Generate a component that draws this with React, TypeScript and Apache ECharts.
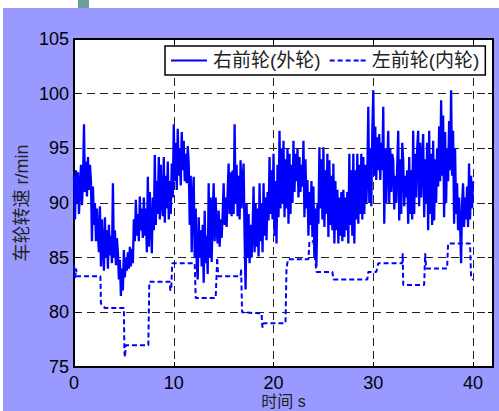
import React, { useEffect, useRef } from "react";
import * as echarts from "echarts";

// time step of the outer-wheel samples (s)
const timeStep = 0.1;

// 右前轮(外轮) speed, r/min, one value every 0.1 s from 0 to 40 s
const outerWheel: number[] = [
  92.5, 88.5, 93.0, 90.0, 92.8, 89.0, 91.5, 93.5, 89.8, 92.0,
  97.2, 91.0, 93.8, 90.6, 94.2, 91.2, 93.5, 92.0, 86.5, 91.5,
  88.0, 90.0, 86.5, 89.5, 87.0, 85.5, 89.7, 84.2, 88.5, 86.0,
  83.8, 88.7, 85.0, 87.5, 84.0, 88.0, 85.2, 87.0, 84.5, 91.8,
  85.0, 87.5, 84.3, 86.8, 85.5, 83.0, 84.8, 81.5, 84.0, 82.0,
  85.7, 83.2, 85.0, 83.8, 85.5, 84.0, 86.0, 84.2, 85.8, 84.5,
  88.5, 86.5, 90.3, 87.0, 89.0, 86.5, 90.6, 87.5, 89.5, 86.8,
  90.5, 87.0, 89.5, 85.5, 92.4, 86.0, 91.0, 88.0, 85.4, 90.5,
  87.5, 94.4, 88.0, 92.0, 89.0, 94.2, 88.5, 93.5, 90.0, 88.8,
  94.2, 88.2, 92.5, 89.5, 93.8, 88.5, 92.0, 89.0, 93.6, 90.5,
  97.2, 92.0, 95.5, 91.2, 96.8, 92.5, 95.0, 91.6, 96.5, 93.0,
  95.7, 92.0, 94.5, 91.8, 95.2, 93.6, 88.0, 92.5, 85.5, 90.5,
  92.4, 85.0, 89.5, 84.5, 83.0, 88.7, 85.0, 87.5, 84.2, 88.0,
  82.7, 89.3, 84.5, 87.0, 83.5, 91.8, 85.0, 90.5, 84.6, 89.0,
  91.8, 86.5, 90.5, 87.5, 86.3, 89.3, 86.0, 88.5, 86.8, 89.0,
  91.8, 88.0, 90.5, 87.8, 91.0, 93.6, 89.0, 92.8, 88.8, 93.0,
  89.0, 97.2, 90.0, 93.5, 88.8, 92.5, 88.5, 93.9, 89.5, 92.0,
  93.6, 87.0, 82.1, 90.0, 85.0, 89.0, 84.5, 88.0, 85.0, 87.5,
  91.5, 85.5, 90.0, 86.0, 89.5, 85.1, 91.8, 86.5, 90.0, 85.5,
  91.8, 87.0, 90.5, 86.6, 91.0, 88.4, 94.2, 89.0, 93.0, 88.5,
  94.5, 87.0, 92.0, 86.3, 93.5, 88.7, 96.6, 89.5, 95.0, 90.0,
  95.7, 88.7, 94.0, 89.5, 95.0, 88.1, 94.5, 89.0, 93.5, 90.0,
  95.7, 91.0, 94.5, 92.0, 95.0, 90.5, 94.2, 91.0, 93.5, 91.5,
  95.7, 88.7, 94.0, 89.5, 92.1, 87.0, 91.0, 88.0, 92.0, 86.9,
  91.5, 85.0, 89.5, 84.2, 90.0, 88.1, 95.1, 89.5, 94.0, 88.5,
  95.1, 87.8, 93.0, 89.0, 94.5, 86.9, 93.9, 88.0, 92.5, 87.5,
  93.6, 86.3, 92.0, 87.5, 91.2, 86.3, 90.5, 87.0, 91.0, 86.5,
  91.2, 86.9, 90.5, 87.5, 91.0, 86.3, 94.5, 88.0, 93.0, 87.0,
  94.5, 86.3, 93.0, 88.5, 94.5, 88.1, 93.5, 89.0, 94.5, 88.5,
  94.2, 89.0, 93.5, 90.0, 92.5, 98.8, 90.0, 95.0, 89.7, 96.5,
  100.3, 92.5, 97.0, 92.1, 96.0, 93.0, 96.3, 92.1, 95.5, 93.0,
  98.8, 88.1, 95.0, 90.0, 93.5, 96.6, 90.0, 95.0, 91.0, 94.5,
  93.9, 89.4, 92.5, 90.0, 93.5, 96.6, 88.4, 94.0, 89.0, 95.5,
  93.9, 89.7, 92.5, 90.5, 93.0, 88.1, 94.2, 89.0, 93.0, 88.5,
  96.6, 89.0, 94.5, 90.5, 95.0, 96.6, 89.7, 95.5, 90.5, 94.0,
  96.3, 88.7, 94.0, 90.0, 95.5, 87.5, 96.6, 89.0, 94.5, 88.0,
  95.7, 88.4, 94.0, 90.0, 95.0, 91.5, 97.0, 92.0, 99.4, 92.5,
  98.0, 88.7, 96.5, 90.0, 95.0, 92.0, 97.5, 93.0, 100.3, 92.5,
  96.6, 88.1, 95.0, 89.0, 91.8, 87.5, 90.5, 88.0, 84.5, 90.0,
  91.8, 87.8, 90.5, 88.5, 91.5, 87.8, 93.6, 88.5, 92.5, 89.5,
  92.0,
];

// 左前轮(内轮) speed: [time s, r/min] corner points of the step profile
const innerWheel: [number, number][] = [
  [0, 84.3], [0.1, 83.0], [0.2, 84.0], [0.3, 83.3], [2.65, 83.3], [2.7, 80.8],
  [3.1, 80.4], [5.0, 80.4], [5.05, 76.5], [5.1, 75.9], [5.2, 77.0], [7.45, 77.0],
  [7.55, 82.8], [9.6, 82.8], [9.65, 82.0], [9.75, 82.2], [9.85, 84.5], [12.1, 84.5],
  [12.2, 81.3], [14.2, 81.3], [14.3, 83.6], [14.35, 85.0], [14.45, 83.3], [16.7, 83.3],
  [16.75, 84.0], [16.85, 80.0], [18.8, 79.9], [18.85, 79.0], [18.9, 78.6], [19.0, 79.0],
  [21.2, 79.0], [21.3, 84.0], [21.45, 84.85], [23.5, 84.85], [23.6, 86.5], [24.0, 86.5],
  [24.3, 83.7], [25.9, 83.7], [26.0, 83.0], [29.4, 83.0], [29.5, 83.7], [30.3, 83.7],
  [30.5, 84.5], [32.9, 84.5], [32.95, 85.4], [33.0, 82.5], [35.1, 82.5], [35.2, 85.4],
  [35.3, 84.0], [37.4, 84.0], [37.5, 86.3], [39.7, 86.3], [39.8, 83.3], [40.0, 83.0],
];

const seriesNames = ["右前轮(外轮)", "左前轮(内轮)"];
const xLabelTicks = [0, 10, 20, 30, 40];
const xMin = 0;
const xMax = 42;
const xStep = 10;
const yMin = 75;
const yMax = 105;
const yStep = 5;

const latin = "'Liberation Sans', Arial, 'Noto Sans CJK SC'";
const cjk = "'Liberation Sans', 'Noto Sans CJK SC'";

const solidIcon = "path://M0,0H36V2H0Z";
const dashedIcon =
  "path://M0,0H5V2H0Z M8,0H13V2H8Z M16,0H21V2H16Z M24,0H29V2H24Z M31,0H36V2H31Z";

export default function App() {
  const ref = useRef<HTMLDivElement>(null);

  useEffect(() => {
    if (!ref.current) return;
    const chart = echarts.init(ref.current, undefined, { renderer: "svg" });

    const outerData = outerWheel.map((v, i) => [Math.round(i * timeStep * 10) / 10, v]);

    const gridLine = { show: true, lineStyle: { color: "#222", width: 1, type: [8, 5] as any } };
    const tick = { show: true, inside: true, length: 5, lineStyle: { color: "#000", width: 1 } };
    const axisLine = { show: true, onZero: false, lineStyle: { color: "#000", width: 2 } };

    chart.setOption({
      animation: false,
      backgroundColor: "#ffffff",
      graphic: [
        { type: "rect", z: -10, shape: { x: 3, y: 8, width: 496, height: 403 }, style: { fill: "#9999ff" } },
        { type: "rect", z: -10, shape: { x: 78, y: 0, width: 11, height: 8 }, style: { fill: "#6b9e9a" } },
      ],
      grid: {
        left: 74,
        top: 39,
        right: 6,
        bottom: 44,
        show: true,
        backgroundColor: "#ffffff",
        borderWidth: 0,
        containLabel: false,
        outerBoundsMode: "none",
      },
      legend: {
        left: 165,
        top: 46,
        orient: "horizontal",
        padding: [5, 6, 5, 6],
        itemGap: 9,
        itemWidth: 38,
        itemHeight: 2,
        backgroundColor: "#ffffff",
        borderColor: "#000",
        borderWidth: 1.5,
        borderRadius: 0,
        textStyle: { fontSize: 19, fontFamily: cjk, color: "#222", lineHeight: 19 },
        data: [
          { name: seriesNames[0], icon: solidIcon },
          { name: seriesNames[1], icon: dashedIcon },
        ],
      },
      xAxis: [
        {
          type: "value",
          min: xMin,
          max: xMax,
          interval: xStep,
          position: "bottom",
          name: "时间 s",
          nameLocation: "middle",
          nameGap: 26,
          nameMoveOverlap: false,
          nameTextStyle: { fontSize: 16, lineHeight: 16, fontFamily: cjk, color: "#222" },
          axisLine,
          axisTick: tick,
          splitLine: gridLine,
          axisLabel: {
            fontSize: 18,
            fontFamily: latin,
            color: "#000",
            margin: 7,
            formatter: (v: number) => (xLabelTicks.includes(v) ? String(v) : ""),
          },
        },
        {
          type: "value",
          min: xMin,
          max: xMax,
          interval: xStep,
          position: "top",
          axisLine,
          axisTick: tick,
          splitLine: { show: false },
          axisLabel: { show: false },
        },
      ],
      yAxis: [
        {
          type: "value",
          min: yMin,
          max: yMax,
          interval: yStep,
          position: "left",
          name: "车轮转速 r/min",
          nameLocation: "middle",
          nameGap: 43,
          nameMoveOverlap: false,
          nameTextStyle: { fontSize: 18, fontFamily: cjk, color: "#222" },
          axisLine,
          axisTick: tick,
          splitLine: gridLine,
          axisLabel: { fontSize: 18, fontFamily: latin, color: "#000", margin: 5 },
        },
        {
          type: "value",
          min: yMin,
          max: yMax,
          interval: yStep,
          position: "right",
          axisLine,
          axisTick: tick,
          splitLine: { show: false },
          axisLabel: { show: false },
        },
      ],
      series: [
        {
          name: seriesNames[0],
          type: "line",
          xAxisIndex: 0,
          yAxisIndex: 0,
          data: outerData,
          symbol: "none",
          lineStyle: { color: "#0000ff", width: 2.3 },
          itemStyle: { color: "#0000ff" },
          z: 3,
        },
        {
          name: seriesNames[1],
          type: "line",
          xAxisIndex: 0,
          yAxisIndex: 0,
          data: innerWheel,
          symbol: "none",
          lineStyle: { color: "#0000ff", width: 2, type: [5, 3] as any },
          itemStyle: { color: "#0000ff" },
          z: 2,
        },
      ],
    });

    return () => chart.dispose();
  }, []);

  return (
    <div
      ref={ref}
      style={{ position: "absolute", left: 0, top: 0, width: 499, height: 411 }}
    />
  );
}
